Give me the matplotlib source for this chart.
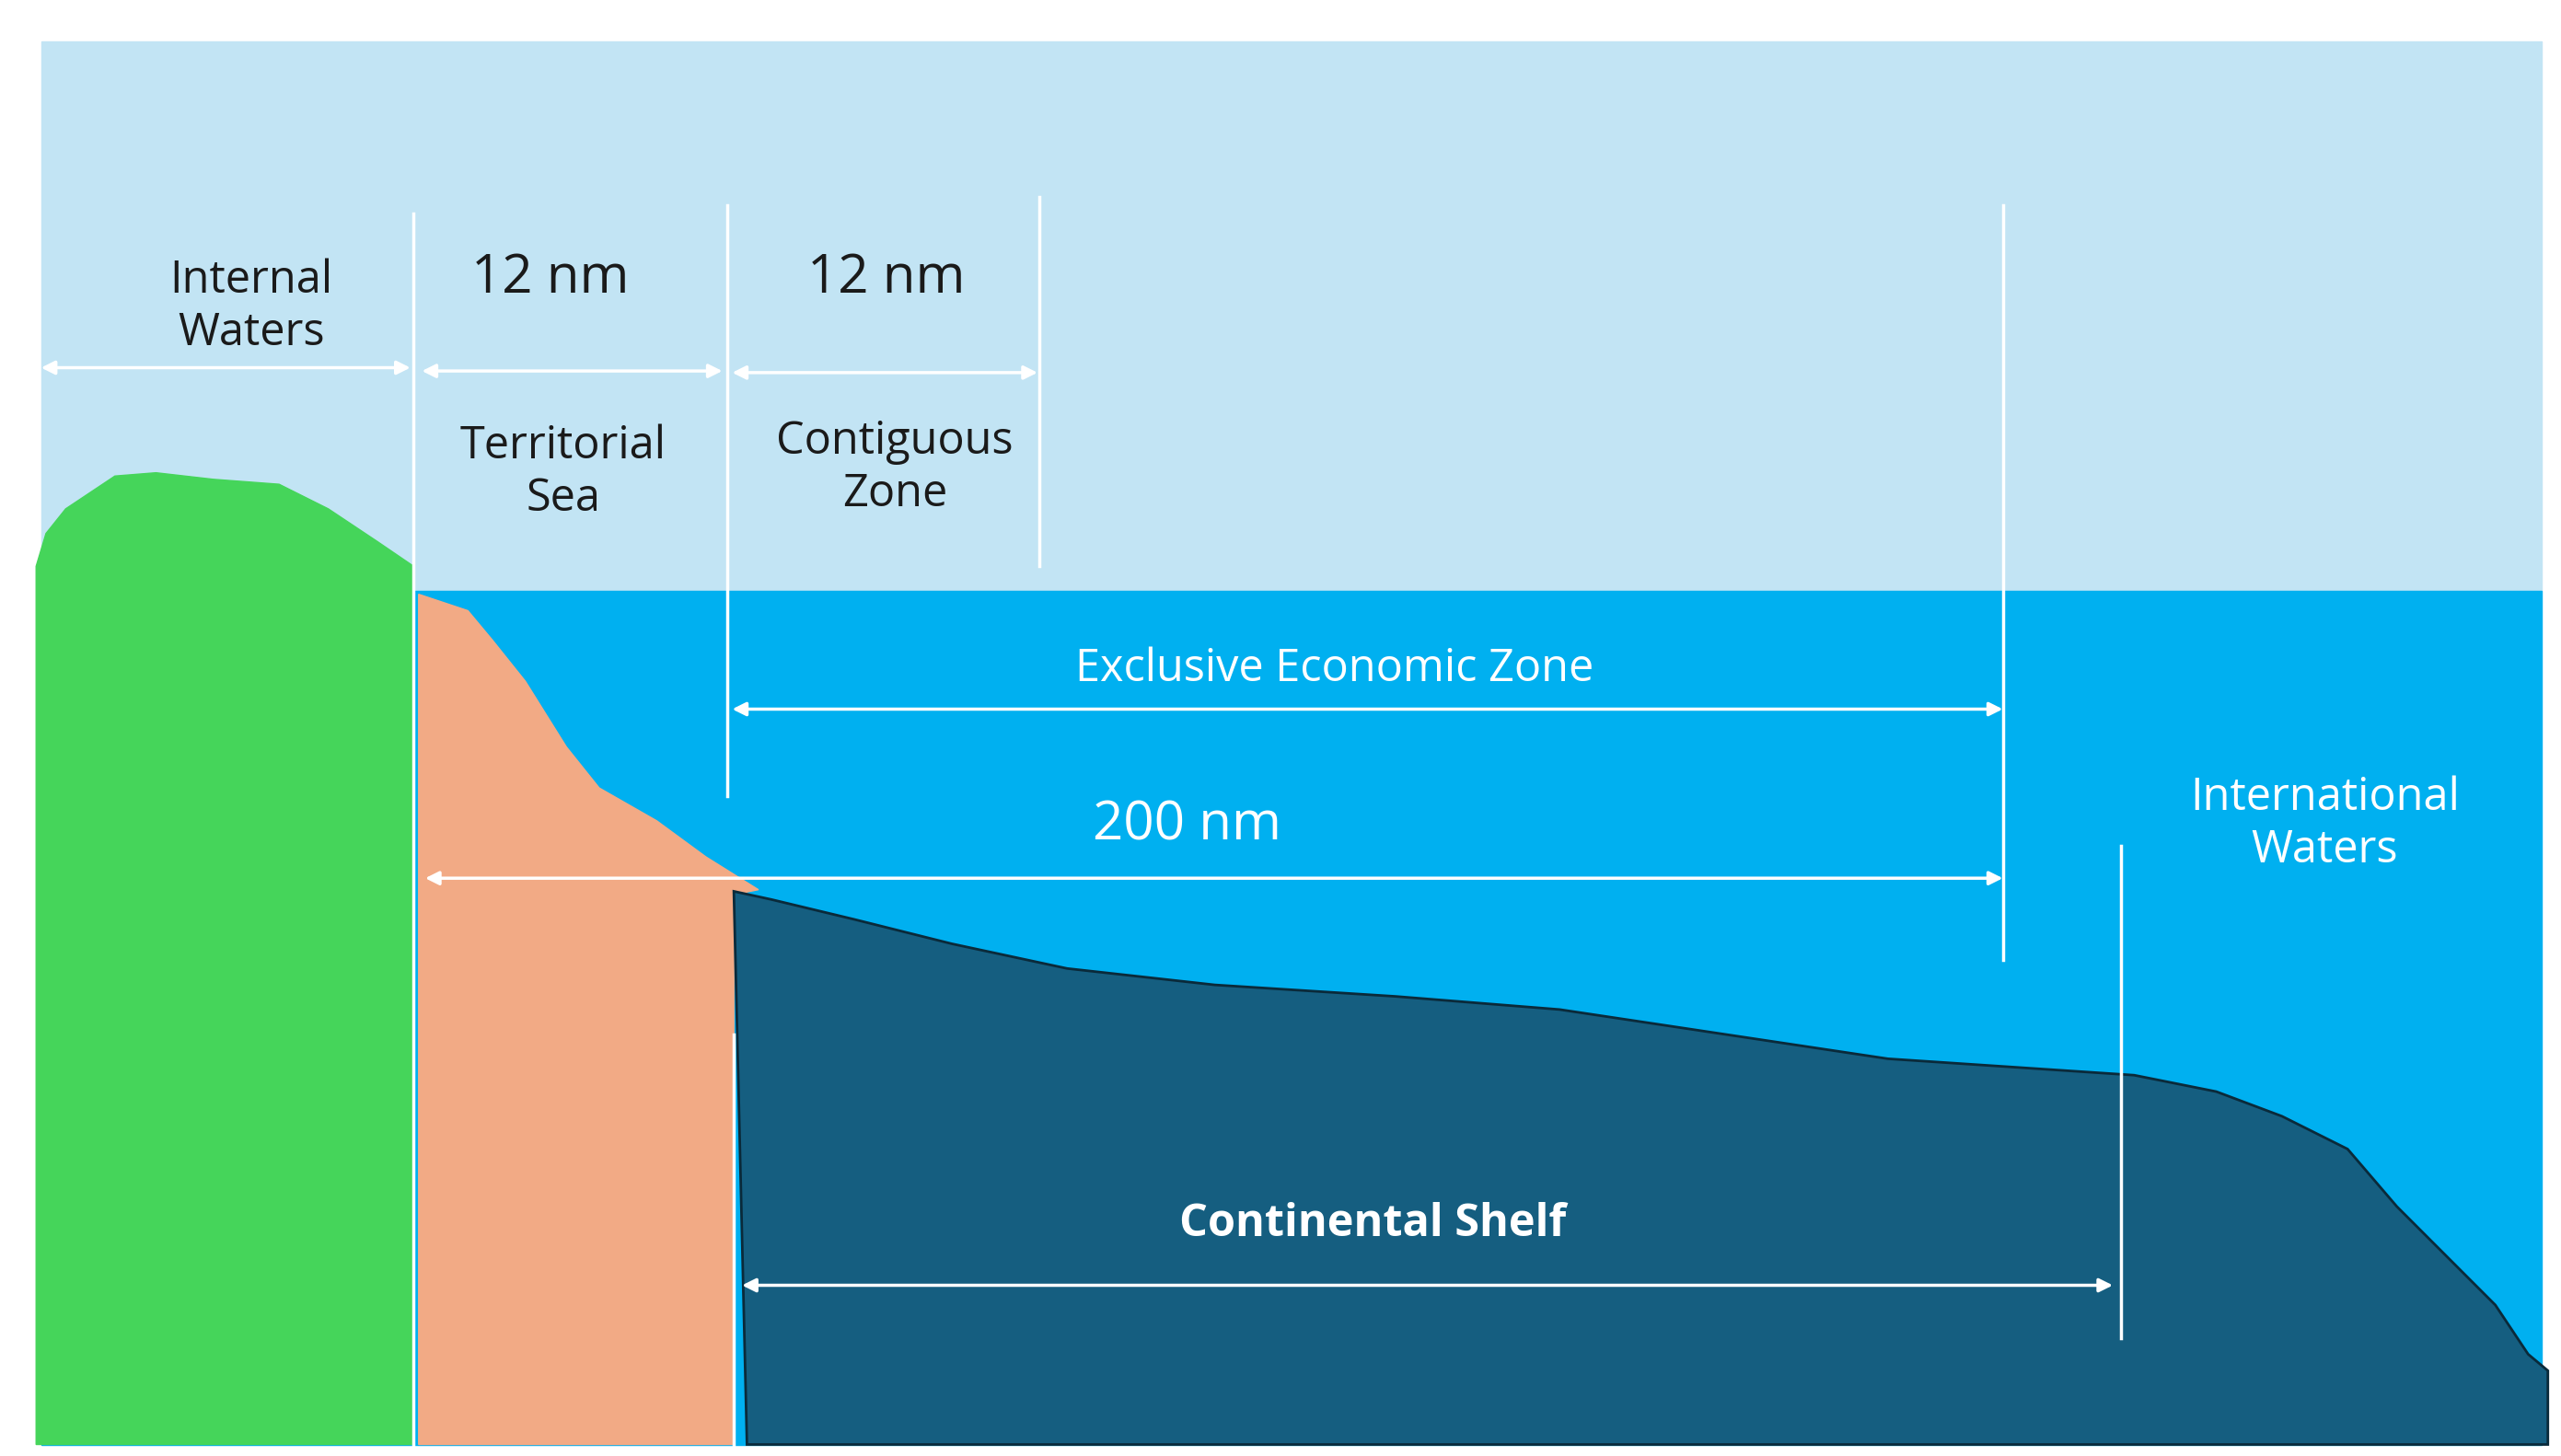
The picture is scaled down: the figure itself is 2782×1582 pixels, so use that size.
import matplotlib.pyplot as plt
from matplotlib.patches import Polygon, Rectangle

plt.rcParams["font.family"] = ["Open Sans", "DejaVu Sans"]

# profiles in diagram units (x right, y down), width 1560 x height 887
LAND_X = [22, 28, 40, 55, 70, 95, 130, 170, 200, 230, 252, 252, 22]
LAND_Y = [345, 325, 310, 300, 290, 288, 292, 295, 310, 330, 345, 880, 880]
SLOPE_X = [255, 285, 300, 320, 345, 365, 400, 430, 462, 447, 447, 255]
SLOPE_Y = [362, 372, 390, 415, 455, 480, 500, 522, 542, 545, 880, 880]
SHELF_X = [447, 470, 520, 580, 650, 740, 850, 950, 1050, 1150, 1300, 1350,
           1390, 1430, 1460, 1490, 1520, 1540, 1552, 1552, 455]
SHELF_Y = [543, 548, 560, 575, 590, 600, 607, 615, 630, 645, 655, 665,
           680, 700, 735, 765, 795, 825, 835, 880, 880]

VLINES = [(252, 130, 880), (443, 125, 485), (633, 120, 345), (1220, 125, 585),
          (1292, 515, 815), (447, 630, 880)]
ARROWS = [(25, 250, 224), (257, 440, 226), (446, 632, 227), (446, 1220, 432),
          (259, 1220, 535), (452, 1287, 783)]

fig = plt.figure(figsize=(27.82, 15.82), dpi=100)
ax = fig.add_axes([0, 0, 1, 1])
ax.set_xlim(0, 1560)
ax.set_ylim(887, 0)
ax.axis("off")

ax.add_patch(Rectangle((25, 25), 1523, 335, color="#C2E4F4", zorder=0))
ax.add_patch(Rectangle((25, 360), 1523, 520, color="#00B0F0", zorder=0))
ax.add_patch(Polygon(list(zip(LAND_X, LAND_Y)), color="#45D55A", zorder=1))
ax.add_patch(Polygon(list(zip(SLOPE_X, SLOPE_Y)), color="#F2AA85", zorder=1))
ax.add_patch(Polygon(list(zip(SHELF_X, SHELF_Y)), facecolor="#155E80",
                     edgecolor="#0a2a3a", lw=2, zorder=2))

for x, y0, y1 in VLINES:
    ax.plot([x, x], [y0, y1], color="white", lw=2.5, zorder=3)
for x0, x1, y in ARROWS:
    ax.annotate("", xy=(x1, y), xytext=(x0, y), zorder=3,
                arrowprops=dict(arrowstyle="<|-|>", color="white", lw=2.5,
                                mutation_scale=22, shrinkA=0, shrinkB=0))

dark = "#1a1a1a"
fs = 35
ax.text(153, 187, "Internal\nWaters", color=dark, fontsize=fs, ha="center", va="center", linespacing=1.2)
ax.text(335, 170, "12 nm", color=dark, fontsize=42, ha="center", va="center")
ax.text(540, 170, "12 nm", color=dark, fontsize=42, ha="center", va="center")
ax.text(343, 288, "Territorial\nSea", color=dark, fontsize=fs, ha="center", va="center", linespacing=1.2)
ax.text(545, 285, "Contiguous\nZone", color=dark, fontsize=fs, ha="center", va="center", linespacing=1.2)
ax.text(813, 408, "Exclusive Economic Zone", color="white", fontsize=fs, ha="center", va="center")
ax.text(723, 503, "200 nm", color="white", fontsize=42, ha="center", va="center")
ax.text(1416, 502, "International\nWaters", color="white", fontsize=fs, ha="center", va="center", linespacing=1.2)
ax.text(836, 746, "Continental Shelf", color="white", fontsize=fs, fontweight="bold", ha="center", va="center")

fig.savefig("out.png", dpi=100, facecolor="white")
